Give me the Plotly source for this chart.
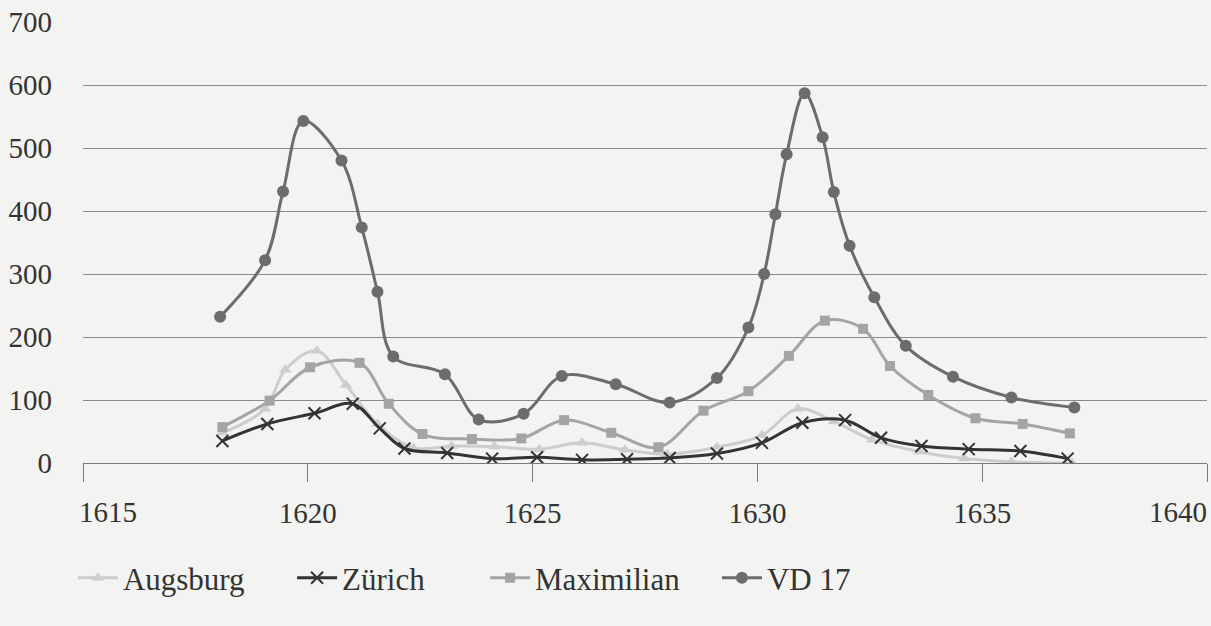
import plotly.graph_objects as go

# ---- data ----
aug_x = [1618.1, 1619.05, 1619.5, 1620.2, 1620.85, 1621.55, 1622.35, 1623.2, 1624.15, 1625.15,
         1626.1, 1627.05, 1628.0, 1629.1, 1630.1, 1630.9, 1631.7, 1632.55, 1633.6, 1634.6,
         1635.65, 1637.0]
aug_y = [48, 86, 148, 178, 124, 62, 24, 27, 26, 22, 32, 21, 14, 25, 44, 86, 66, 37, 18, 7, 2, 0]

zur_x = [1618.1, 1619.1, 1620.15, 1621.0, 1621.6, 1622.15, 1623.1, 1624.1, 1625.1, 1626.1,
         1627.1, 1628.05, 1629.1, 1630.1, 1631.0, 1631.95, 1632.75, 1633.65, 1634.7, 1635.85,
         1636.9]
zur_y = [35, 62, 79, 94, 55, 23, 16, 7, 9, 5, 6, 8, 15, 32, 64, 68, 40, 27, 22, 19, 7]

max_x = [1618.1, 1619.15, 1620.05, 1621.15, 1621.8, 1622.55, 1623.65, 1624.75, 1625.7, 1626.75,
         1627.8, 1628.8, 1629.8, 1630.7, 1631.5, 1632.35, 1632.95, 1633.8, 1634.85, 1635.9,
         1636.95]
max_y = [57, 99, 152, 159, 94, 46, 38, 39, 68, 48, 25, 83, 114, 170, 226, 213, 154, 108, 71, 62, 47]

vd_x = [1618.05, 1619.05, 1619.45, 1619.9, 1620.75, 1621.2, 1621.55, 1621.9, 1623.05, 1623.8,
        1624.8, 1625.65, 1626.85, 1628.05, 1629.1, 1629.8, 1630.15, 1630.4, 1630.65, 1631.05,
        1631.45, 1631.7, 1632.05, 1632.6, 1633.3, 1634.35, 1635.65, 1637.05]
vd_y = [232, 322, 431, 543, 480, 374, 272, 169, 141, 69, 78, 138, 125, 96, 135, 215, 300, 395,
        490, 587, 517, 430, 345, 263, 186, 137, 104, 88]

x_ticks = [1615, 1620, 1625, 1630, 1635, 1640]
y_ticks = [0, 100, 200, 300, 400, 500, 600, 700]

FONT = "Liberation Serif"
TXT = "#333333"
BG = "#f3f3f1"
SMOOTH = 1.0

fig = go.Figure()

fig.add_trace(go.Scatter(
    x=aug_x, y=aug_y, name="Augsburg", mode="lines+markers", legend="legend",
    line=dict(color="#cdcdcd", width=3, shape="spline", smoothing=SMOOTH),
    marker=dict(symbol="triangle-up", size=11, color="#cdcdcd")))
fig.add_trace(go.Scatter(
    x=zur_x, y=zur_y, name="Zürich", mode="lines+markers", legend="legend2",
    line=dict(color="#333333", width=3, shape="spline", smoothing=SMOOTH),
    marker=dict(symbol="x-thin", size=12, color="#333333",
                line=dict(color="#333333", width=2))))
fig.add_trace(go.Scatter(
    x=max_x, y=max_y, name="Maximilian", mode="lines+markers", legend="legend3",
    line=dict(color="#a4a4a4", width=3, shape="spline", smoothing=SMOOTH),
    marker=dict(symbol="square", size=10, color="#a4a4a4")))
fig.add_trace(go.Scatter(
    x=vd_x, y=vd_y, name="VD 17", mode="lines+markers", legend="legend4",
    line=dict(color="#6c6c6c", width=3, shape="spline", smoothing=SMOOTH),
    marker=dict(symbol="circle", size=12, color="#6c6c6c")))

ticktext = [str(v) if v not in (x_ticks[0], x_ticks[-1]) else "" for v in x_ticks]


def leg(xpos):
    return dict(orientation="h", x=xpos, xanchor="left", y=-0.261, yanchor="middle",
                font=dict(family=FONT, size=31, color=TXT), bgcolor="rgba(0,0,0,0)",
                itemwidth=40)


fig.update_layout(
    width=1211, height=626,
    margin=dict(l=83, r=4, t=22, b=163),
    paper_bgcolor=BG, plot_bgcolor=BG,
    font=dict(family=FONT, size=28, color=TXT),
    showlegend=True,
    legend=leg(-0.009), legend2=leg(0.186), legend3=leg(0.3577), legend4=leg(0.564),
    xaxis=dict(range=[1615, 1640], tickvals=x_ticks, ticktext=ticktext,
               showgrid=False, zeroline=False, showline=True, linecolor="#7a7a7a",
               linewidth=1, ticks="outside", ticklen=18, tickcolor="#7a7a7a", tickwidth=1,
               ticklabelstandoff=6, tickfont=dict(family=FONT, size=29, color=TXT)),
    yaxis=dict(range=[0, 700], tickvals=y_ticks, showgrid=True, gridcolor="#8a8a8a",
               gridwidth=1, zeroline=False, showline=False, ticks="",
               ticklabelstandoff=30, tickfont=dict(family=FONT, size=29, color=TXT)),
)

for v, anchor, dx in ((x_ticks[0], "left", -6), (x_ticks[-1], "right", 2)):
    fig.add_annotation(x=v, xref="x", y=0, yref="paper", yshift=-31, xshift=dx,
                       text=str(v), showarrow=False, xanchor=anchor, yanchor="top",
                       font=dict(family=FONT, size=29, color=TXT))

fig.write_html("out.html", config={"displayModeBar": False},
               post_script="document.body.style.margin='0';"
                           "document.body.style.background='%s';" % BG)
